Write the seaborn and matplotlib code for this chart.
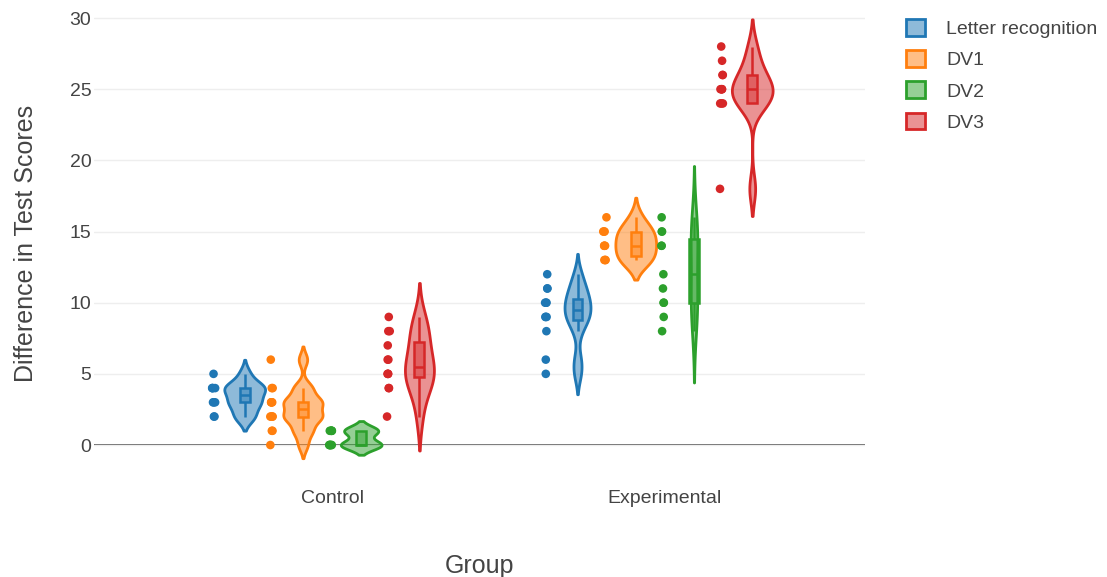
import numpy as np
import pandas as pd
import matplotlib
matplotlib.use("Agg")
import matplotlib.pyplot as plt
from matplotlib.patches import Patch
import seaborn as sns

# Score differences per measure and group
groups = ["Control", "Experimental"]
measures = ["Letter recognition", "DV1", "DV2", "DV3"]
colors = ["#1f77b4", "#ff7f0e", "#2ca02c", "#d62728"]

control_letter = [2, 2, 3, 3, 3, 4, 4, 4, 4, 5]
control_dv1 = [0, 1, 1, 2, 2, 2, 2, 3, 3, 3, 3, 4, 4, 6]
control_dv2 = [0, 0, 0, 0, 0, 0, 1, 1, 1, 1, 1]
control_dv3 = [2, 4, 4, 5, 5, 5, 6, 6, 7, 8, 8, 9]

experimental_letter = [5, 6, 8, 9, 9, 9, 10, 10, 10, 11, 11, 12]
experimental_dv1 = [13, 13, 13, 14, 14, 14, 15, 15, 15, 16]
experimental_dv2 = [8, 9, 10, 10, 11, 12, 14, 14, 15, 15, 16]
experimental_dv3 = [18, 24, 24, 24, 25, 25, 25, 25, 26, 26, 27, 28]

series = {
    ("Control", "Letter recognition"): control_letter,
    ("Control", "DV1"): control_dv1,
    ("Control", "DV2"): control_dv2,
    ("Control", "DV3"): control_dv3,
    ("Experimental", "Letter recognition"): experimental_letter,
    ("Experimental", "DV1"): experimental_dv1,
    ("Experimental", "DV2"): experimental_dv2,
    ("Experimental", "DV3"): experimental_dv3,
}

rows = []
for (grp, meas), vals in series.items():
    for v in vals:
        rows.append({"Group": grp, "Measure": meas, "Score": v})
df = pd.DataFrame(rows)


def robust_silverman(kde):
    """Silverman bandwidth using min(std, IQR/1.349), as a factor of the std."""
    data = np.asarray(kde.dataset).ravel()
    std = np.std(data, ddof=1)
    q1, q3 = np.percentile(data, [25, 75])
    spread = min(std, (q3 - q1) / 1.349) if q3 > q1 else std
    bw = 1.059 * spread * len(data) ** (-0.2)
    return bw / std


sns.set_style("white")
plt.rcParams["font.family"] = ["Liberation Sans", "DejaVu Sans"]
text_color = "#444444"

fig = plt.figure(figsize=(11.07, 5.77), dpi=100)
ax = fig.add_axes([0.085, 0.172, 0.696, 0.8115])

palette = dict(zip(measures, colors))
common = dict(data=df, x="Group", y="Score", hue="Measure",
              order=groups, hue_order=measures, palette=palette, ax=ax)
group_width = 0.7

# Violins: width shared within each measure (area normalised per hue)
n0 = len(ax.collections)
sns.violinplot(**common, width=group_width, gap=0.3, inner=None,
               density_norm="area", common_norm=False, cut=2,
               bw_method=robust_silverman, linewidth=2, saturation=1,
               legend=False)
for coll in ax.collections[n0:]:
    fc = coll.get_facecolor()[0]
    coll.set_facecolor((fc[0], fc[1], fc[2], 0.5))
    coll.set_edgecolor((fc[0], fc[1], fc[2], 1.0))
    coll.set_linewidth(2)

# Narrow boxes inside the violins
n_patch = len(ax.patches)
n_line = len(ax.lines)
sns.boxplot(**common, width=group_width, gap=0.83, showcaps=False,
            showfliers=False, whis=1.5, linewidth=2, saturation=1, legend=False)
box_patches = ax.patches[n_patch:]
box_centers = []
for patch in box_patches:
    fc = patch.get_facecolor()
    patch.set_facecolor((fc[0], fc[1], fc[2], 0.45))
    patch.set_edgecolor((fc[0], fc[1], fc[2], 1.0))
    patch.set_linewidth(1.8)
    box_centers.append(np.mean(patch.get_path().vertices[:, 0]))
# whiskers and medians take the colour of their box
for line in ax.lines[n_line:]:
    xc = np.mean(line.get_xdata())
    k = int(np.argmin(np.abs(np.array(box_centers) - xc)))
    c = box_patches[k].get_edgecolor()
    line.set_color((c[0], c[1], c[2], 1.0))
    line.set_linewidth(1.8)

# Sample points drawn beside each violin
np.random.seed(3)
n1 = len(ax.collections)
sns.stripplot(**common, dodge=True, jitter=0.024, size=6.2, linewidth=0,
              legend=False, zorder=3)
for coll in ax.collections[n1:]:
    off = np.asarray(coll.get_offsets()).copy()
    if len(off):
        cat = np.round(off[:, 0].mean())
        # strip dodging uses a 0.8 group width; align with the violins, then step left
        off[:, 0] = cat + (off[:, 0] - cat) * group_width / 0.8 - 0.093
        coll.set_offsets(off)

ax.set_xlim(-0.715, 1.60)
ax.set_ylim(-2.3, 30.6)
ax.set_yticks([0, 5, 10, 15, 20, 25, 30])
ax.yaxis.grid(True, color="#eeeeee", linewidth=1)
ax.xaxis.grid(False)
ax.set_axisbelow(True)
ax.axhline(0, color="#444444", linewidth=1.2, zorder=0.5)
for s in ax.spines.values():
    s.set_visible(False)
ax.tick_params(axis="both", length=0, labelsize=14, colors=text_color)
ax.tick_params(axis="y", pad=2)
ax.tick_params(axis="x", pad=9)

ax.set_xlabel("Group", fontsize=18, color=text_color, labelpad=34)
ax.set_ylabel("Difference in Test Scores", fontsize=18, color=text_color,
              labelpad=23)

handles = [Patch(facecolor=(*matplotlib.colors.to_rgb(c), 0.5),
                 edgecolor=c, linewidth=2) for c in colors]
fig.legend(handles, measures, loc="upper left", bbox_to_anchor=(0.803, 0.997),
           frameon=False, fontsize=14, handlelength=0.95, handleheight=0.95,
           labelspacing=0.62, handletextpad=1.1, labelcolor=text_color)

fig.savefig("out.png", dpi=100)
